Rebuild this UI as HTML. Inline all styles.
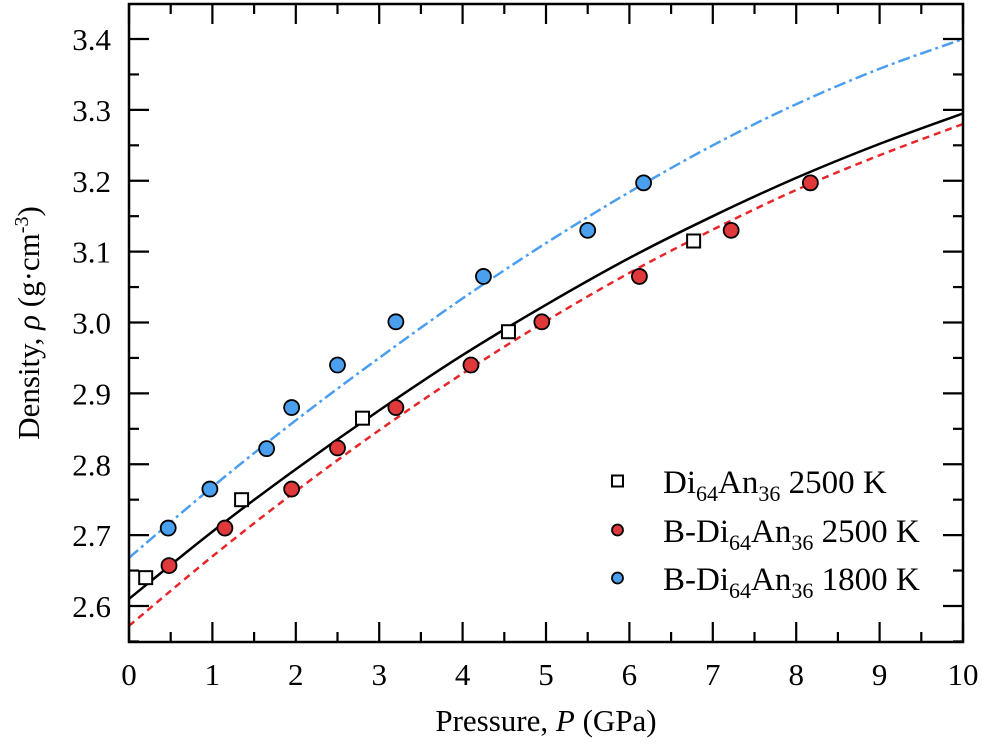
<!DOCTYPE html>
<html><head><meta charset="utf-8">
<style>
html,body{margin:0;padding:0;background:#fff;}
svg{display:block;font-family:"Liberation Serif",serif;}
</style></head>
<body>
<svg id="chart" width="982" height="745" viewBox="0 0 982 745" xmlns="http://www.w3.org/2000/svg"></svg>
<script>
const xTicks=[0,1,2,3,4,5,6,7,8,9,10];
const yTicks=[2.6,2.7,2.8,2.9,3.0,3.1,3.2,3.3,3.4];
const curveP=[0,1,2,3,4,5,6,7,8,9,10];
const blackFit=[2.610,2.705,2.793,2.876,2.954,3.025,3.091,3.150,3.204,3.252,3.295];
const redFit=[2.572,2.670,2.762,2.848,2.928,3.002,3.070,3.131,3.187,3.236,3.280];
const blueFit=[2.668,2.768,2.862,2.950,3.034,3.112,3.184,3.250,3.308,3.358,3.400];
const sqP=[0.2,1.35,2.8,4.55,6.77];
const sqRho=[2.64,2.75,2.865,2.987,3.115];
const redP=[0.48,1.15,1.95,2.5,3.2,4.1,4.95,6.12,7.22,8.17];
const redRho=[2.657,2.71,2.765,2.823,2.88,2.94,3.001,3.065,3.13,3.197];
const blueP=[0.47,0.97,1.65,1.95,2.5,3.2,4.25,5.5,6.17];
const blueRho=[2.71,2.765,2.822,2.88,2.94,3.001,3.065,3.13,3.197];

const L=129,R=963,T=4,B=642;
const xs=p=>L+(p-0)/10*(R-L);
const ys=v=>606-(v-2.6)/0.8*(606-39);
const svg=document.getElementById('chart');
const NS='http://www.w3.org/2000/svg';
function mk(tag,attrs,parent){const e=document.createElementNS(NS,tag);for(const k in attrs)e.setAttribute(k,attrs[k]);(parent||svg).appendChild(e);return e;}

const defs=mk('defs',{});
const cp=mk('clipPath',{id:'clip'},defs);
mk('rect',{x:L,y:T,width:R-L,height:B-T},cp);

function curve(vals,color,dash,name){
  const pts=curveP.map((p,i)=>[xs(p),ys(vals[i])]);
  let d='M'+pts[0][0]+','+pts[0][1];
  for(let i=0;i<pts.length-1;i++){
    const p0=pts[Math.max(0,i-1)],p1=pts[i],p2=pts[i+1],p3=pts[Math.min(pts.length-1,i+2)];
    const c1=[p1[0]+(p2[0]-p0[0])/6,p1[1]+(p2[1]-p0[1])/6];
    const c2=[p2[0]-(p3[0]-p1[0])/6,p2[1]-(p3[1]-p1[1])/6];
    d+=` C${c1[0]},${c1[1]} ${c2[0]},${c2[1]} ${p2[0]},${p2[1]}`;
  }
  const e=mk('path',{d:d,fill:'none',stroke:color,'stroke-width':2.5,'clip-path':'url(#clip)'});
  if(dash)e.setAttribute('stroke-dasharray',dash);
  
  
}
curve(blueFit,'#4a9ef0','12,4,3,4','fit-line-1800k');
curve(redFit,'#e8262a','7,5','fit-line-b-2500k');
curve(blackFit,'#000',null,'fit-line-2500k');

sqP.forEach((p,i)=>{
  const e=mk('rect',{x:xs(p)-6.5,y:ys(sqRho[i])-6.5,width:13,height:13,fill:'#fff',stroke:'#000','stroke-width':2});
  
  
});
redP.forEach((p,i)=>{
  const e=mk('circle',{cx:xs(p),cy:ys(redRho[i]),r:7.5,fill:'#e0393c',stroke:'#000','stroke-width':1.8});
  
  
});
blueP.forEach((p,i)=>{
  const e=mk('circle',{cx:xs(p),cy:ys(blueRho[i]),r:7.5,fill:'#4aa0ee',stroke:'#000','stroke-width':1.8});
  
  
});

const fr=mk('rect',{x:L,y:T,width:R-L,height:B-T,fill:'none',stroke:'#000','stroke-width':2.5});



for(let p=0;p<=10;p+=0.5){
  const major=Math.abs(p-Math.round(p))<1e-6, len=major?20:10, x=xs(p);
  mk('line',{x1:x,y1:B,x2:x,y2:B-len,stroke:'#000','stroke-width':2.2});
  mk('line',{x1:x,y1:T,x2:x,y2:T+len,stroke:'#000','stroke-width':2.2});
}
for(let k=0;k<=17;k++){
  const v=2.55+k*0.05; const y=ys(v); if(y<T||y>B)continue;
  const major=k%2===1, len=major?20:10;
  mk('line',{x1:L,y1:y,x2:L+len,y2:y,stroke:'#000','stroke-width':2.2});
  mk('line',{x1:R,y1:y,x2:R-len,y2:y,stroke:'#000','stroke-width':2.2});
}
xTicks.forEach(p=>{
  const t=mk('text',{x:xs(p),y:685,'text-anchor':'middle','font-size':31});
  t.textContent=p;
  
  
});
yTicks.forEach(v=>{
  const t=mk('text',{x:111,y:ys(v)+11,'text-anchor':'end','font-size':31});
  t.textContent=v.toFixed(1);
  
  
});
</script>
<svg style="position:absolute;left:0;top:0" width="982" height="745">
<text x="546" y="731" text-anchor="middle" font-size="31" font-family="Liberation Serif, serif">Pressure, <tspan font-style="italic">P</tspan> (GPa)</text>
<text transform="translate(39,323) rotate(-90)" text-anchor="middle" font-size="31" font-family="Liberation Serif, serif">Density, <tspan font-style="italic">ρ</tspan> (g·cm<tspan dy="-11" font-size="20">-3</tspan><tspan dy="11">)</tspan></text>
<g font-family="Liberation Serif, serif" font-size="33">
<rect x="612" y="475.5" width="11" height="11" fill="#fff" stroke="#000" stroke-width="2"/>
<text x="663" y="493">Di<tspan dy="8" font-size="22">64</tspan><tspan dy="-8">An</tspan><tspan dy="8" font-size="22">36</tspan><tspan dy="-8"> 2500 K</tspan></text>
<circle cx="617.5" cy="530" r="5.5" fill="#e0393c" stroke="#000" stroke-width="1.8"/>
<text x="663" y="542">B-Di<tspan dy="8" font-size="22">64</tspan><tspan dy="-8">An</tspan><tspan dy="8" font-size="22">36</tspan><tspan dy="-8"> 2500 K</tspan></text>
<circle cx="617.5" cy="578" r="5.5" fill="#4aa0ee" stroke="#000" stroke-width="1.8"/>
<text x="663" y="590">B-Di<tspan dy="8" font-size="22">64</tspan><tspan dy="-8">An</tspan><tspan dy="8" font-size="22">36</tspan><tspan dy="-8"> 1800 K</tspan></text>
</g>
</svg>
</body></html>
